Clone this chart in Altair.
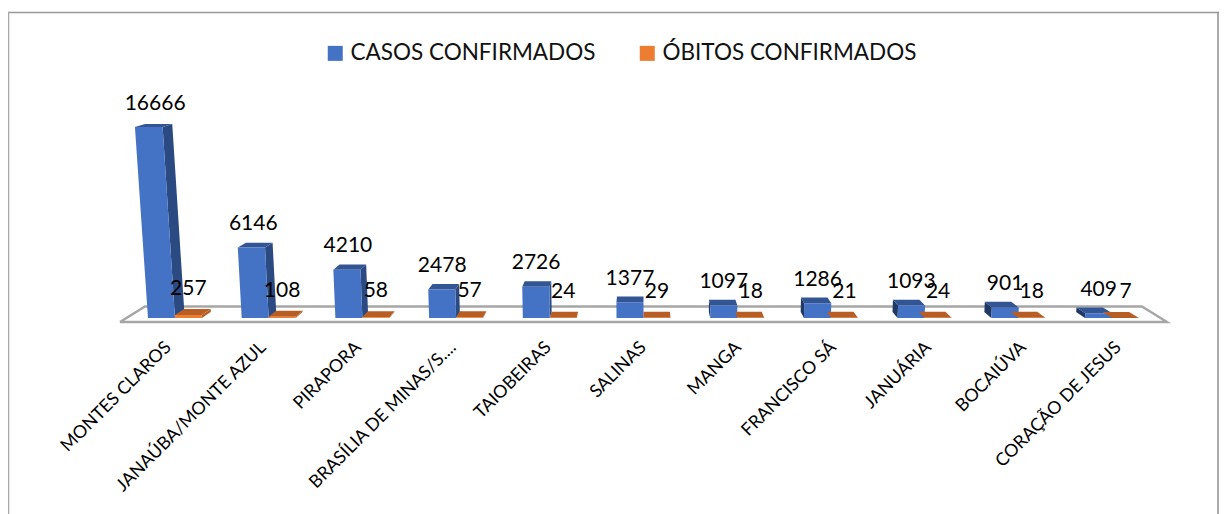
import altair as alt
import pandas as pd

categories = ["MONTES CLAROS", "JANAÚBA/MONTE AZUL", "PIRAPORA", "BRASÍLIA DE MINAS/S....", "TAIOBEIRAS",
              "SALINAS", "MANGA", "FRANCISCO SÁ", "JANUÁRIA", "BOCAIÚVA", "CORAÇÃO DE JESUS"]
casos = [16666, 6146, 4210, 2478, 2726, 1377, 1097, 1286, 1093, 901, 409]
obitos = [257, 108, 58, 57, 24, 29, 18, 21, 24, 18, 7]
series_names = ["CASOS CONFIRMADOS", "ÓBITOS CONFIRMADOS"]

FONT = "Lato"
W, H = 1211, 506
BAR = 0.288
CENTER = 5.0


def project(u, depth, v):
    """Simple 3D look: category position, depth 0..1 and value to the scale's units."""
    x = CENTER + (u - CENTER) * (1 + 1.58e-6 * v) * (1 - 0.02 * depth)
    y = v + depth * (523 - 0.0157 * v)
    return x, y


def slices(poly):
    """Turn a convex polygon into upper/lower area boundaries."""
    xs = sorted({round(p[0], 5) for p in poly})
    out = []
    n = len(poly)
    for x in xs:
        ys = []
        for i in range(n):
            (x0, y0), (x1, y1) = poly[i], poly[(i + 1) % n]
            lo, hi = min(x0, x1), max(x0, x1)
            if lo - 1e-5 <= x <= hi + 1e-5:
                if abs(x1 - x0) < 1e-5:
                    ys += [y0, y1]
                else:
                    ys.append(y0 + (y1 - y0) * (x - x0) / (x1 - x0))
        out.append((x, min(ys), max(ys)))
    return out


rows = []
labels = []
for i, cat in enumerate(categories):
    for name, val, u0, u1 in ((series_names[0], casos[i], i - BAR, float(i)),
                              (series_names[1], obitos[i], float(i), i + BAR)):
        a = project(u0, 0, 0); b = project(u1, 0, 0)
        c = project(u1, 0, val); d = project(u0, 0, val)
        e = project(u0, 1, val); f = project(u1, 1, val)
        g = project(u1, 1, 0); h = project(u0, 1, 0)
        faces = {"front": [a, b, c, d], "top": [d, c, f, e]}
        if u1 < CENTER:
            faces["side"] = [b, g, f, c]
        elif u0 > CENTER:
            faces["side2"] = [a, h, e, d]
        for kind, poly in faces.items():
            for x, lo, hi in slices(poly):
                rows.append(dict(face=f"{i}-{name}-{kind}", kind=kind, series=name, x=x, lo=lo, hi=hi))
        lx, ly = project((u0 + u1) / 2, 0, val / 2)
        labels.append(dict(series=name, x=lx, y=val, text=str(val)))

faces_df = pd.DataFrame(rows)
labels_df = pd.DataFrame(labels)
cats_df = pd.DataFrame({"cat": categories,
                        "x": [CENTER + (i - CENTER) * 1.014 for i in range(len(categories))],
                        "y": [-2350] * len(categories)})

x_scale = alt.Scale(domain=[-1.782, 11.142], nice=False, zero=False)
y_scale = alt.Scale(domain=[-17103, 27050], nice=False, zero=False)
color_scale = alt.Scale(domain=series_names, range=["#4472C4", "#ED7D31"])
legend = alt.Legend(orient="none", legendX=316, legendY=34, direction="horizontal", title=None,
                    symbolType="square", symbolSize=225, symbolStrokeWidth=0, columns=2, columnPadding=40,
                    labelFont=FONT, labelFontSize=22.5, labelColor="#111111", labelLimit=400, padding=0)


def area(series, kind, color=None):
    base = alt.Chart(faces_df).transform_filter(
        alt.datum.kind == kind).transform_filter(alt.datum.series == series)
    enc = dict(
        x=alt.X("x:Q", scale=x_scale, axis=None),
        y=alt.Y("hi:Q", scale=y_scale, axis=None, stack=None),
        y2="lo:Q",
        detail="face:N",
    )
    if color is None:
        return base.mark_area(interpolate="linear").encode(
            color=alt.Color("series:N", scale=color_scale, legend=legend), **enc)
    return base.mark_area(interpolate="linear", color=color).encode(**enc)


floor_df = pd.DataFrame({
    "x": [-0.587, 10.587, 10.32, -0.32, -0.587],
    "y": [-349, -349, 1003, 1003, -349],
    "o": [0, 1, 2, 3, 4],
})
floor = alt.Chart(floor_df).mark_line(color="#A6A6A6", strokeWidth=2.4).encode(
    x=alt.X("x:Q", scale=x_scale, axis=None),
    y=alt.Y("y:Q", scale=y_scale, axis=None),
    order="o:Q",
)

frame_top = alt.Chart().mark_rule(color="#999999", strokeWidth=1.4).encode(
    x=alt.value(0), x2=alt.value(W), y=alt.value(4.5))
frame_left = alt.Chart().mark_rule(color="#AAAAAA", strokeWidth=1.6).encode(
    x=alt.value(0.5), y=alt.value(4), y2=alt.value(H))
frame_right = alt.Chart().mark_rule(color="#888888", strokeWidth=1.4).encode(
    x=alt.value(W - 1), y=alt.value(4), y2=alt.value(H))


def value_text(series, dy):
    return alt.Chart(labels_df).transform_filter(alt.datum.series == series).mark_text(
        font=FONT, fontSize=21, color="#000000", baseline="middle", align="center", dy=dy
    ).encode(
        x=alt.X("x:Q", scale=x_scale, axis=None),
        y=alt.Y("y:Q", scale=y_scale, axis=None),
        text="text:N",
    )


cat_text = alt.Chart(cats_df).mark_text(
    font=FONT, fontSize=17.8, color="#000000", angle=315, align="right", baseline="middle"
).encode(
    x=alt.X("x:Q", scale=x_scale, axis=None),
    y=alt.Y("y:Q", scale=y_scale, axis=None),
    text="cat:N",
)

blue, orange = series_names
chart = alt.layer(
    frame_top, frame_left, frame_right, floor,
    area(blue, "side", "#2C4A82"), area(blue, "side2", "#1F3864"), area(blue, "top", "#335593"), area(blue, "front"),
    area(orange, "side", "#B85D23"), area(orange, "side2", "#B85D23"), area(orange, "top", "#B85D23"), area(orange, "front"),
    value_text(blue, -23.5), value_text(orange, -26), cat_text,
).properties(
    width=W, height=H, padding=0, autosize=alt.AutoSizeParams(type="none"), background="#FFFFFF",
).configure_view(stroke=None)

chart.save("out.html", embed_options={"renderer": "svg", "actions": False})
